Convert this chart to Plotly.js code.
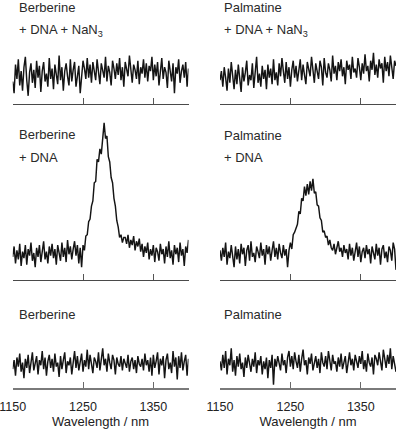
<!DOCTYPE html>
<html>
<head>
<meta charset="utf-8">
<script src="https://cdn.plot.ly/plotly-3.0.1.min.js"></script>
<style>
  html, body { margin: 0; padding: 0; background: #fff; }
  #chart { width: 398px; height: 430px; }
</style>
</head>
<body>
<div id="chart"></div>
<script>
// Wavelength grid (nm)
const wavelength = [
  1150,1152,1154,1156,1158,1160,1162,1164,1166,1168,
  1170,1172,1174,1176,1178,1180,1182,1184,1186,1188,
  1190,1192,1194,1196,1198,1200,1202,1204,1206,1208,
  1210,1212,1214,1216,1218,1220,1222,1224,1226,1228,
  1230,1232,1234,1236,1238,1240,1242,1244,1246,1248,
  1250,1252,1254,1256,1258,1260,1262,1264,1266,1268,
  1270,1272,1274,1276,1278,1280,1282,1284,1286,1288,
  1290,1292,1294,1296,1298,1300,1302,1304,1306,1308,
  1310,1312,1314,1316,1318,1320,1322,1324,1326,1328,
  1330,1332,1334,1336,1338,1340,1342,1344,1346,1348,
  1350,1352,1354,1356,1358,1360,1362,1364,1366,1368,
  1370,1372,1374,1376,1378,1380,1382,1384,1386,1388,
  1390,1392,1394,1396,1398,1400
];
const tickValues = [1150, 1250, 1350];
const tickLabels = ["1150", "1250", "1350"];

// Emission intensity (arbitrary units)
const berberineDnaNaN3 = [
  -5, -14, 8, -3, 12, -8, 3, -12, 6, 14, -4, -16, 2, 9,
  -6, 4, -10, 11, -2, 7, -13, 3, 10, -5, 1, -9, 13, -3,
  5, -11, 8, 2, -7, 15, -4, 6, -12, 3, 9, -1, -8, 12,
  -5, 4, 10, -9, 1, 7, -14, 2, 11, 5, -3, 13, -2, 8,
  -6, 10, 3, -4, 12, 1, -7, 9, 4, -2, 14, -5, 7, 2,
  -8, 11, 5, -3, 9, 0, 13, -4, 6, -9, 10, 3, -1, 15,
  2, -6, 8, 4, -3, 11, -7, 6, 1, 12, -2, 9, -5, 7,
  3, 14, -4, 8, -1, 10, -8, 5, 13, -3, 6, 2, -10, 11,
  4, -5, 9, -14, 6, 1, 12, -6, 3, 8, -2, 10, -9, 5
];
const palmatineDnaNaN3 = [
  -4, 3, -9, 6, -2, -12, 5, -6, 10, -3, -11, 4, -7, 8,
  -1, -13, 6, -5, 2, 11, -8, 0, -4, 9, -10, 3, 14, -6,
  1, -9, 7, -3, 4, -11, 8, -2, 5, -7, 12, -4, 2, -8,
  9, -1, 13, 3, -6, 10, -3, 6, -9, 4, 11, -2, 7, -5,
  2, 12, -4, 8, 0, -7, 10, 3, -1, 14, 5, -6, 9, 1,
  -3, 11, 6, -8, 13, 2, -2, 9, 4, -5, 15, 1, 7, -4,
  10, 3, 12, -1, 6, -7, 11, 4, 8, -3, 14, 2, 5, -2,
  13, 6, -4, 9, 1, 16, 3, 7, -5, 11, 4, 17, 0, 8,
  -2, 12, 5, 9, -6, 14, 3, 10, -1, 15, 6, -3, 11, 7
];
const berberineDna = [
  -3, 5, -8, 2, -5, 7, -10, 1, -4, 6, -9, 3, -2, 8,
  -6, 0, -11, 4, -3, 6, -7, 2, 9, -5, 1, -8, 5, -2,
  7, -4, 3, -9, 6, 0, -6, 8, -3, 4, -7, 10, -1, 5,
  -5, 3, 9, -2, 6, -8, 4, -11, 6, 2, 13, 14, 24, 26,
  36, 40, 54, 55, 72, 70, 80, 76, 90, 100, 88, 90, 74, 70,
  58, 54, 42, 36, 25, 20, 12, 14, 8, 12, 12, 7, 14, 4,
  10, 6, 13, 2, 9, 5, 11, 1, 7, -3, 5, 0, 8, -5,
  3, -2, 6, -7, 4, 1, -6, 7, -1, 3, -8, 5, -3, 9,
  -4, 2, -9, 6, -1, 4, -7, 8, -2, 3, -10, 5, 0, 10
];
const palmatineDna = [
  2, -6, 4, -3, 8, -9, 1, -4, 6, -2, -11, 5, -5, 3,
  -8, 7, -1, 4, -10, 2, 6, -6, 9, -3, 0, -7, 5, 1,
  -4, 8, -2, 3, -9, 6, -1, 5, -6, 2, 9, -3, 4, -5,
  7, 0, -4, 6, -2, 3, -11, 2, 8, 3, 14, 16, 19, 22,
  32, 30, 42, 40, 51, 44, 53, 45, 55, 48, 57, 46, 47, 37,
  36, 27, 25, 16, 17, 12, 13, 6, 10, 4, 2, 7, -1, 5,
  9, 1, 4, -3, 6, 0, 3, -5, 7, -2, 4, -6, 2, 8,
  -3, 5, -7, 1, 4, -4, 6, -1, 3, -8, 5, 0, -5, 7,
  -2, 4, -9, 3, 6, -4, 1, -7, 5, 2, -6, 8, 3, -13
];
const berberine = [
  -4, 3, -9, 5, -2, 8, -6, 1, -11, 4, -3, 7, -7, 2,
  9, -5, 0, 6, -8, 3, -1, 10, -4, 5, -9, 2, 7, -3,
  4, -6, 8, -2, 1, -10, 6, -4, 3, 9, -7, 2, -1, 5,
  -8, 4, 10, -3, 6, -5, 1, 8, -6, 3, -2, 11, -4, 7,
  0, -7, 5, 2, -3, 9, -5, 6, 12, -1, 4, -6, 8, 1,
  -4, 7, 3, -8, 5, 0, -2, 6, -5, 4, 1, -3, 7, -6,
  2, 5, -4, 3, -7, 6, 0, -2, 4, -5, 8, -1, 3, -6,
  5, -9, 7, -3, 2, 9, -8, 4, -1, 6, -11, 3, 8, -4,
  1, -7, 10, -2, 5, -12, 6, -3, 9, -5, 2, 7, -9, 4
];
const palmatine = [
  2, -5, 7, -3, 10, -8, 4, -1, 12, -6, 3, -9, 6, -2,
  8, -4, 1, -10, 5, -3, 7, 0, -6, 4, -2, 9, -7, 3,
  -1, 6, -8, 2, -4, 5, -11, 3, -3, 7, -16, 4, -2, 6,
  1, -5, 8, -1, 3, -7, 5, 10, -2, 6, -4, 9, 2, -3,
  7, -6, 4, 11, -1, 3, -8, 5, 0, 8, -5, 2, 6, -3,
  4, -7, 9, 1, -2, 6, -4, 10, 3, -5, 7, 0, 2, -6,
  5, -2, 8, -4, 1, 6, -7, 3, 9, -1, 4, -5, 7, 2,
  -3, 6, 0, 10, -4, 3, -6, 8, 1, -2, 5, -8, 7, 4,
  -1, 9, 2, -5, 11, 3, -3, 7, 0, 12, -4, 6, 1, -6
];

const series = [berberineDnaNaN3, palmatineDnaNaN3, berberineDna, palmatineDna, berberine, palmatine];
series.forEach((s, i) => {
  if (s.length !== wavelength.length) throw new Error("series " + i + " has " + s.length + " values");
});

const lineStyle = { color: "#141414", width: 1.45 };
const traces = series.map((s, i) => ({
  type: "scatter", mode: "lines",
  x: wavelength, y: s,
  xaxis: "x" + (i === 0 ? "" : i + 1),
  yaxis: "y" + (i === 0 ? "" : i + 1),
  line: lineStyle, hoverinfo: "skip"
}));

const W = 398, H = 430;
const xL = [12.7 / W, 188.5 / W];
const xR = [220 / W, 396 / W];
const rows = [
  { dom: [(H - 104) / H, (H - 30) / H], range: [-22.3, 34.6] },
  { dom: [(H - 280) / H, (H - 115) / H], range: [-20.8, 106.1] },
  { dom: [(H - 388) / H, (H - 335) / H], range: [-18.5, 22.3] }
];
const fontFam = "'Liberation Sans', Arial, Helvetica, sans-serif";

function xAxis(domain, anchor, bottom) {
  const ax = {
    domain: domain, anchor: anchor, range: [1150, 1400],
    showgrid: false, zeroline: false,
    showline: true, linecolor: bottom ? "#7a7a7a" : "#4a4a4a", linewidth: bottom ? 2 : 1,
    ticks: "inside", ticklen: 6, tickwidth: 1, tickcolor: bottom ? "#6a6a6a" : "#555",
    tickvals: tickValues, ticktext: tickLabels,
    showticklabels: bottom,
    ticklabelstandoff: 6,
    ticklabeloverflow: "allow",
    tickfont: { family: fontFam, size: 12.5, color: "#222" },
    automargin: false, fixedrange: true
  };
  if (bottom) {
    ax.title = { text: "Wavelength / nm", font: { family: fontFam, size: 13, color: "#222" }, standoff: 2 };
  }
  return ax;
}
function yAxis(row, anchor) {
  return { domain: row.dom, range: row.range, anchor: anchor, visible: false, fixedrange: true };
}

const layout = {
  width: W, height: H,
  margin: { l: 0, r: 0, t: 0, b: 0 },
  paper_bgcolor: "#fff", plot_bgcolor: "rgba(0,0,0,0)",
  showlegend: false,
  xaxis: xAxis(xL, "y", false),
  xaxis2: xAxis(xR, "y2", false),
  xaxis3: xAxis(xL, "y3", false),
  xaxis4: xAxis(xR, "y4", false),
  xaxis5: xAxis(xL, "y5", true),
  xaxis6: xAxis(xR, "y6", true),
  yaxis: yAxis(rows[0], "x"),
  yaxis2: yAxis(rows[0], "x2"),
  yaxis3: yAxis(rows[1], "x3"),
  yaxis4: yAxis(rows[1], "x4"),
  yaxis5: yAxis(rows[2], "x5"),
  yaxis6: yAxis(rows[2], "x6"),
  annotations: [
    ["Berberine", 16.5, 8], ["+ DNA + NaN<sub>3</sub>", 16.5, 30],
    ["Berberine", 16.5, 134.5], ["+ DNA", 16.5, 157],
    ["Berberine", 16.5, 314.5],
    ["Palmatine", 221.5, 7.5], ["+ DNA + NaN<sub>3</sub>", 221.5, 30],
    ["Palmatine", 221.5, 135], ["+ DNA", 221.5, 157.5],
    ["Palmatine", 221.5, 314.5]
  ].map(a => ({
    text: a[0], xref: "paper", yref: "paper",
    x: a[1] / W, y: 1 - a[2] / H, xanchor: "left", yanchor: "middle",
    showarrow: false, font: { family: fontFam, size: 13, color: "#2a2a2a" }
  }))
};

Plotly.newPlot("chart", traces, layout, { staticPlot: true, displayModeBar: false });
</script>
</body>
</html>
